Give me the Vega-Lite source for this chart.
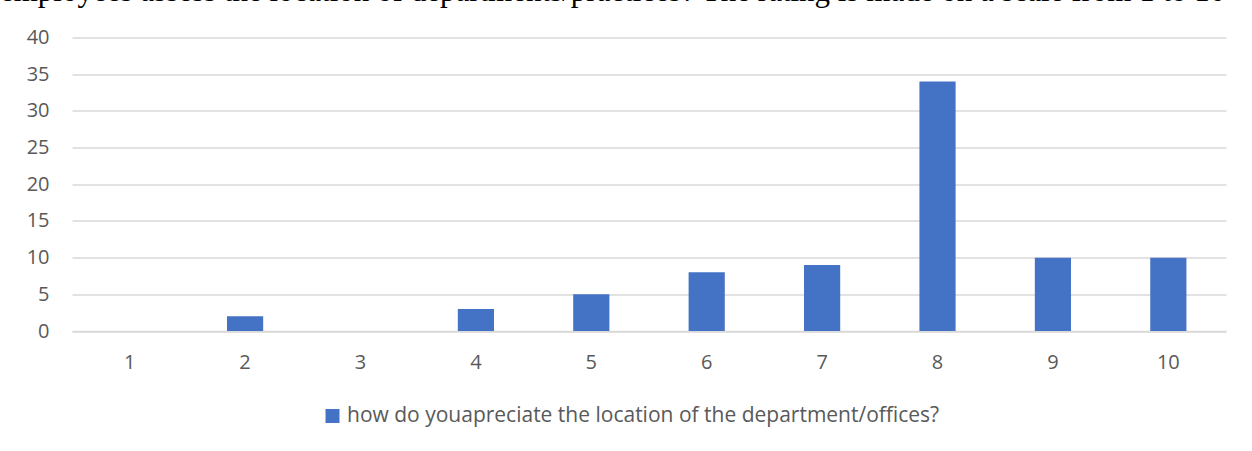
{
  "$schema": "https://vega.github.io/schema/vega-lite/v6.json",
  "autosize": {"type": "none"},
  "width": 1154,
  "height": 293.5,
  "padding": {"left": 72, "top": 37.5, "right": 26, "bottom": 120},
  "background": "white",
  "title": {
    "text": "employees assess the location of departments/practices? The rating is made on a scale from 1 to 10",
    "font": "Liberation Serif",
    "fontSize": 31,
    "fontWeight": "normal",
    "color": "#000000",
    "anchor": "start",
    "frame": "group",
    "dx": -72,
    "baseline": "alphabetic",
    "offset": -4
  },
  "data": {
    "values": [
      {"rating": "1", "count": 0, "series": "how do youapreciate the location of the department/offices?"},
      {"rating": "2", "count": 2, "series": "how do youapreciate the location of the department/offices?"},
      {"rating": "3", "count": 0, "series": "how do youapreciate the location of the department/offices?"},
      {"rating": "4", "count": 3, "series": "how do youapreciate the location of the department/offices?"},
      {"rating": "5", "count": 5, "series": "how do youapreciate the location of the department/offices?"},
      {"rating": "6", "count": 8, "series": "how do youapreciate the location of the department/offices?"},
      {"rating": "7", "count": 9, "series": "how do youapreciate the location of the department/offices?"},
      {"rating": "8", "count": 34, "series": "how do youapreciate the location of the department/offices?"},
      {"rating": "9", "count": 10, "series": "how do youapreciate the location of the department/offices?"},
      {"rating": "10", "count": 10, "series": "how do youapreciate the location of the department/offices?"}
    ]
  },
  "mark": {"type": "bar"},
  "encoding": {
    "x": {
      "field": "rating",
      "type": "nominal",
      "sort": null,
      "scale": {"paddingInner": 0.6865, "paddingOuter": 0.343},
      "axis": {
        "title": null,
        "labelAngle": 0,
        "ticks": false,
        "domain": true,
        "domainColor": "#d9d9d9",
        "domainWidth": 1.5,
        "labelFont": "Open Sans",
        "labelFontSize": 20,
        "labelColor": "#595959",
        "labelPadding": 21
      }
    },
    "y": {
      "field": "count",
      "type": "quantitative",
      "scale": {"domain": [0, 40]},
      "axis": {
        "title": null,
        "values": [0, 5, 10, 15, 20, 25, 30, 35, 40],
        "ticks": false,
        "domain": false,
        "grid": true,
        "gridColor": "#d9d9d9",
        "gridWidth": 1.5,
        "labelFont": "Open Sans",
        "labelFontSize": 20,
        "labelColor": "#595959",
        "labelPadding": 23
      }
    },
    "color": {
      "field": "series",
      "type": "nominal",
      "scale": {"range": ["#4472C4"]},
      "legend": {
        "title": null,
        "orient": "none",
        "legendX": 250,
        "legendY": 368,
        "symbolType": "square",
        "symbolSize": 196,
        "symbolStrokeWidth": 0,
        "labelFont": "Open Sans",
        "labelFontSize": 21,
        "labelColor": "#595959",
        "labelLimit": 1000,
        "labelOffset": 4
      }
    }
  },
  "config": {"view": {"stroke": null}}
}
